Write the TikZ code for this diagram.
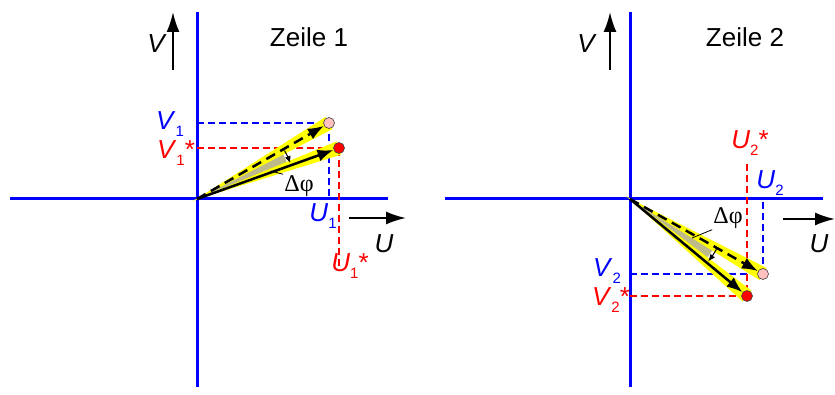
\documentclass[tikz,border=0pt]{standalone}
\usepackage{fontspec}
\setmainfont{Liberation Sans}
\newfontfamily\greekserif{Liberation Serif}
\usepackage{tikz}
\usetikzlibrary{arrows.meta,calc,positioning}
\definecolor{markYellow}{HTML}{FFFF00}
\definecolor{wedgeGray}{RGB}{190,186,140}
\definecolor{dotPink}{RGB}{255,192,192}
\newcommand{\comp}[3]{\textit{#1}\raisebox{-0.45ex}{\fontsize{15}{15}\selectfont #2}#3}
\pgfdeclarelayer{back}
\pgfsetlayers{back,main}

\begin{document}
\begin{tikzpicture}[x=1pt,y=1pt,
    axis/.style={blue,line width=3pt},
    guide/.style={line width=1.3pt,dash pattern=on 7pt off 4pt},
    vec/.style={line width=2.5pt,-{Latex[length=16pt,width=12pt]}},
    dir/.style={line width=2pt,-{Latex[length=20pt,width=13pt]}},
    turn/.style={line width=1pt,-{Latex[length=7pt,width=6pt]}},
    dot/.style={circle,draw=black!75,line width=0.6pt,minimum size=11pt,inner sep=0pt},
    lbl/.style={font=\fontsize{26}{30}\selectfont,inner sep=1pt},
    phi/.style={font=\fontsize{24}{28}\selectfont\greekserif,inner sep=1pt}]
  \useasboundingbox (0,0) rectangle (835,394);
  % Zeile 1
  \coordinate (O1) at (197,195);
  \node[dot,fill=dotPink] (P1) at (329,271) {};
  \node[dot,fill=red] (Q1) at (339,246) {};
  \begin{pgfonlayer}{back}
    \draw[axis] (197,382) -- (197,7);
    \draw[axis] (10,195) -- (388,195);
    \draw[guide,blue] (O1 |- P1) -- (P1.center) -- (P1 |- O1);
    \draw[guide,red] (O1 |- Q1) -- (Q1.center) -- ($(Q1)+(0,-118)$);
    \fill[wedgeGray] (O1) -- ++(29.9:97pt) arc[start angle=29.9,end angle=19.8,radius=97pt] -- cycle;
    \fill[markYellow] ($(O1)!-5pt!(P1)$) -- ($(P1)!7pt!90:(O1)$) -- ($(P1)!7pt!-90:(O1)$) -- cycle;
    \fill[markYellow] ($(O1)!-5pt!(Q1)$) -- ($(Q1)!7pt!90:(O1)$) -- ($(Q1)!7pt!-90:(O1)$) -- cycle;
  \end{pgfonlayer}
  \draw[vec,dash pattern=on 10pt off 6pt] (O1) -- (P1);
  \draw[vec] (O1) -- (Q1);
  \draw[turn] ($(O1)+(29:100pt)$) arc[start angle=29,end angle=21,radius=100pt];
  \node[phi] (dphi1) at (299,208) {Δφ};
  \coordinate (w1) at (271,223);
  \draw[line width=0.8pt] (w1) -- (dphi1.north west);
  \node[lbl,blue] (V1) at (170,270) {\comp{V}{1}{}};
  \node[lbl,red] (V1s) at (176,241) {\comp{V}{1}{*}};
  \node[lbl,blue] (U1) at (323,178) {\comp{U}{1}{}};
  \node[lbl,red] (U1s) at (350,128) {\comp{U}{1}{*}};
  \coordinate (u1a) at (349,176);
  \coordinate (u1b) at (406,176);
  \draw[dir] (u1a) -- (u1b);
  \node[lbl] (U1ax) at (384,150) {\textit{U}};
  \coordinate (v1a) at (173,324);
  \coordinate (v1b) at (173,382);
  \draw[dir] (v1a) -- (v1b);
  \node[lbl] (V1ax) at (157,350) {\textit{V}};
  \node[lbl] (title1) at (309,357) {Zeile 1};
  % Zeile 2
  \coordinate (O2) at (630,195);
  \node[dot,fill=dotPink] (P2) at (763,120) {};
  \node[dot,fill=red] (Q2) at (747,98) {};
  \begin{pgfonlayer}{back}
    \draw[axis] (630,382) -- (630,7);
    \draw[axis] (445,195) -- (823,195);
    \draw[guide,blue] (O2 |- P2) -- (P2.center) -- (P2 |- O2);
    \draw[guide,red] (O2 |- Q2) -- (Q2.center) -- ($(Q2)+(0,134)$);
    \fill[wedgeGray] (O2) -- ++(-29.4:97pt) arc[start angle=-29.4,end angle=-39.7,radius=97pt] -- cycle;
    \fill[markYellow] ($(O2)!-5pt!(P2)$) -- ($(P2)!7pt!90:(O2)$) -- ($(P2)!7pt!-90:(O2)$) -- cycle;
    \fill[markYellow] ($(O2)!-5pt!(Q2)$) -- ($(Q2)!7pt!90:(O2)$) -- ($(Q2)!7pt!-90:(O2)$) -- cycle;
  \end{pgfonlayer}
  \draw[vec,dash pattern=on 10pt off 6pt] (O2) -- (P2);
  \draw[vec] (O2) -- (Q2);
  \draw[turn] ($(O2)+(-30:100pt)$) arc[start angle=-30,end angle=-38.5,radius=100pt];
  \node[phi] (dphi2) at (728,176) {Δφ};
  \coordinate (w2) at (692,156);
  \draw[line width=0.8pt] (w2) -- (dphi2.south west);
  \node[lbl,red] (U2s) at (750,251) {\comp{U}{2}{*}};
  \node[lbl,blue] (U2) at (770,211) {\comp{U}{2}{}};
  \node[lbl,blue] (V2) at (607,123) {\comp{V}{2}{}};
  \node[lbl,red] (V2s) at (611,94) {\comp{V}{2}{*}};
  \coordinate (u2a) at (783,175);
  \coordinate (u2b) at (835,175);
  \draw[dir] (u2a) -- (u2b);
  \node[lbl] (U2ax) at (819,150) {\textit{U}};
  \coordinate (v2a) at (610,324);
  \coordinate (v2b) at (610,382);
  \draw[dir] (v2a) -- (v2b);
  \node[lbl] (V2ax) at (587,350) {\textit{V}};
  \node[lbl] (title2) at (745,357) {Zeile 2};
\end{tikzpicture}
\end{document}
